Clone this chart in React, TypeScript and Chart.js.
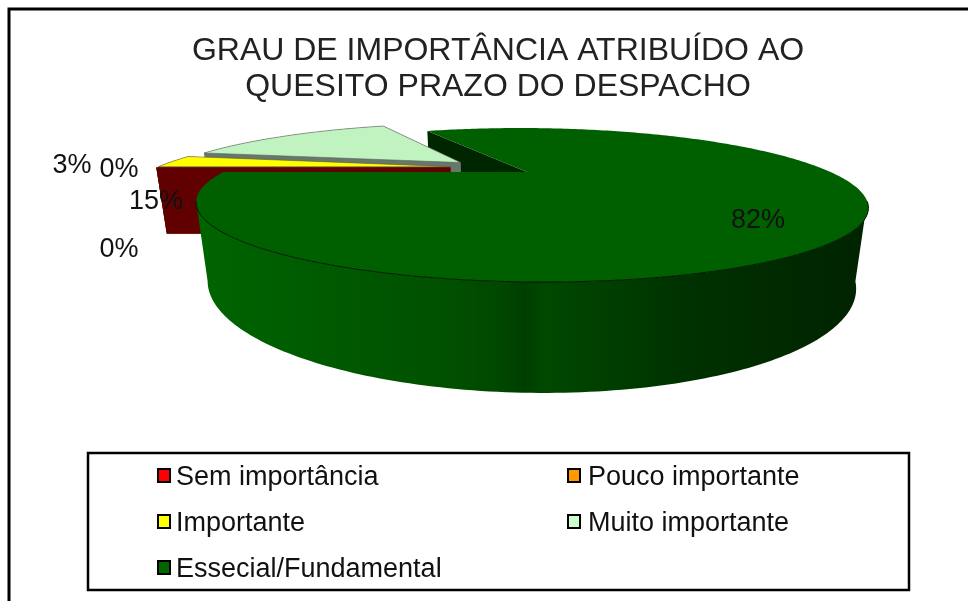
import { useEffect, useRef } from "react";
import { Chart, registerables } from "chart.js";

Chart.register(...registerables);

const titleLines = ["GRAU DE IMPORTÂNCIA ATRIBUÍDO AO", "QUESITO PRAZO DO DESPACHO"];
const categories = ["Sem importância", "Pouco importante", "Importante", "Muito importante", "Essecial/Fundamental"];
const values = [0, 0, 3, 15, 82];
const legendColors = ["#ff0000", "#ff9900", "#ffff00", "#ccffcc", "#006600"];
const topColors = ["#ff0000", "#ff9900", "#ffff00", "#c0f3c0", "#006000"];
const sideColors = ["#600000", "#8a5a00", "#6a6a00", "#66786a", "#002600"];
const drawOrder = [3, 2, 1, 0, 4];
const labelPositions = [[119, 250], [119, 170], [72, 166], [156, 202], [758, 221]];
const wallStops: [number, number][] = [[200, 100], [350, 88], [450, 80], [505, 70], [525, 62], [545, 72], [600, 64], [680, 50], [780, 42], [860, 36]];

const FONT = '"Liberation Sans", Arial, sans-serif';
const EXPLODE = 0.14;
// perspective of the pie's ground plane
const P = { ax: 527, ay: 172, A: 303.5, s: 10, B: 62.86, h: 70, w: 0.4286, q: 0.03 };

function project(u: number, v: number, z: number): [number, number] {
  const d = 1 - P.w * v + P.q * z;
  return [P.ax + (P.A * u + P.s * v) / d, P.ay + (P.B * v + P.h * z) / d];
}

function poly(ctx: CanvasRenderingContext2D, pts: [number, number][], fill: any) {
  ctx.beginPath();
  pts.forEach((p, i) => (i ? ctx.lineTo(p[0], p[1]) : ctx.moveTo(p[0], p[1])));
  ctx.closePath();
  ctx.fillStyle = fill;
  ctx.fill();
}

const pie3d = {
  id: "pie3d",
  beforeDraw(chart: any) {
    const { ctx } = chart;
    ctx.save();
    ctx.strokeStyle = "#000";
    ctx.lineWidth = 3;
    ctx.beginPath();
    ctx.moveTo(9, 601);
    ctx.lineTo(9, 9);
    ctx.lineTo(968, 9);
    ctx.stroke();
    ctx.restore();
  },
  beforeDatasetsDraw(chart: any) {
    const { ctx } = chart;
    const arcs = chart.getDatasetMeta(0).data;
    // the plane origin: the big slice's explosion puts its apex at the projection origin
    const big = arcs[4];
    const bigMid = (big.startAngle + big.endAngle) / 2;
    const ox = -EXPLODE * Math.cos(bigMid);
    const oy = -EXPLODE * Math.sin(bigMid);
    const geom = (a: any) => {
      const mid = (a.startAngle + a.endAngle) / 2;
      const cu = ox + EXPLODE * Math.cos(mid);
      const cv = oy + EXPLODE * Math.sin(mid);
      return {
        rim: (t: number, z: number) => project(cu + Math.cos(t), cv + Math.sin(t), z),
        apex: (z: number) => project(cu, cv, z),
      };
    };
    ctx.save();

    // the notch wall of the big slice lies behind all the other slices
    const bg = geom(big);
    poly(ctx, [bg.apex(0), bg.rim(big.startAngle, 0), bg.rim(big.startAngle, 1), bg.apex(1)], sideColors[4]);

    const grad = ctx.createLinearGradient(wallStops[0][0], 0, wallStops[wallStops.length - 1][0], 0);
    const span = wallStops[wallStops.length - 1][0] - wallStops[0][0];
    wallStops.forEach(([x, c]) => grad.addColorStop((x - wallStops[0][0]) / span, `rgb(0,${c},0)`));

    drawOrder.forEach((i) => {
      const a = arcs[i];
      const s = a.startAngle;
      const e = a.endAngle;
      const { rim, apex } = geom(a);
      const n = Math.max(1, Math.ceil((e - s) * 60));
      const ang = (k: number) => s + ((e - s) * k) / n;

      // radial walls
      if (i !== 4) {
        poly(ctx, [apex(0), rim(e, 0), rim(e, 1), apex(1)], sideColors[i]);
        poly(ctx, [apex(0), rim(s, 0), rim(s, 1), apex(1)], sideColors[i]);
      }

      if (e - s > 1e-6) {
        // outer wall, only the part that faces the viewer
        const front: number[] = [];
        for (let k = 0; k <= n; k++) if (i !== 4 || Math.sin(ang(k)) > 0.38) front.push(ang(k));
        poly(
          ctx,
          [...front.map((t) => rim(t, 0)), ...front.slice().reverse().map((t) => rim(t, 1))],
          i === 4 ? grad : sideColors[i],
        );

        // top face
        const pts: [number, number][] = [apex(0)];
        for (let k = 0; k <= n; k++) pts.push(rim(ang(k), 0));
        poly(ctx, pts, topColors[i]);
        ctx.beginPath();
        if (i === 4) {
          // thin rim line along the front of the big slice
          front.forEach((t, j) => {
            const p = rim(t, 0);
            if (j) ctx.lineTo(p[0], p[1]);
            else ctx.moveTo(p[0], p[1]);
          });
          ctx.strokeStyle = "#001800";
          ctx.lineWidth = 1;
        } else {
          pts.forEach((p, j) => (j ? ctx.lineTo(p[0], p[1]) : ctx.moveTo(p[0], p[1])));
          ctx.closePath();
          ctx.strokeStyle = "rgba(90,90,90,0.8)";
          ctx.lineWidth = 0.7;
        }
        ctx.stroke();
      }
    });
    ctx.restore();
    return false;
  },
  afterDraw(chart: any) {
    const { ctx } = chart;
    ctx.save();
    ctx.fillStyle = "#111";
    ctx.font = `27px ${FONT}`;
    ctx.textAlign = "center";
    ctx.textBaseline = "middle";
    values.forEach((v, i) => ctx.fillText(`${v}%`, labelPositions[i][0], labelPositions[i][1]));

    // legend
    ctx.strokeStyle = "#000";
    ctx.lineWidth = 2.5;
    ctx.fillStyle = "#fff";
    ctx.fillRect(88, 453, 821, 137);
    ctx.strokeRect(88, 453, 821, 137);
    ctx.font = `27px ${FONT}`;
    ctx.textAlign = "left";
    categories.forEach((c, i) => {
      const col = i % 2;
      const row = Math.floor(i / 2);
      const cy = 476 + row * 46;
      const sx = col ? 567 : 157;
      ctx.fillStyle = legendColors[i];
      ctx.fillRect(sx + 1, cy - 7, 12, 13);
      ctx.strokeStyle = "#000";
      ctx.lineWidth = 2;
      ctx.strokeRect(sx + 1, cy - 7, 12, 13);
      ctx.fillStyle = "#111";
      ctx.fillText(c, col ? 588 : 176, cy + 2);
    });
    ctx.restore();
  },
};

export default function App() {
  const ref = useRef<HTMLCanvasElement>(null);
  useEffect(() => {
    document.body.style.margin = "0";
    const chart = new Chart(ref.current!, {
      type: "pie",
      data: { labels: categories, datasets: [{ data: values, backgroundColor: legendColors, borderWidth: 0 }] },
      options: {
        responsive: false,
        animation: false,
        rotation: 270,
        layout: { padding: { left: 28, top: 33 } },
        plugins: {
          legend: { display: false },
          tooltip: { enabled: false },
          title: {
            display: true,
            text: titleLines,
            color: "#222",
            font: { family: FONT, size: 32, weight: "normal", lineHeight: 1.13 },
            padding: 0,
          },
        },
      },
      plugins: [pie3d],
    } as any);
    return () => chart.destroy();
  }, []);
  return <canvas ref={ref} width={968} height={601} style={{ display: "block" }} />;
}
